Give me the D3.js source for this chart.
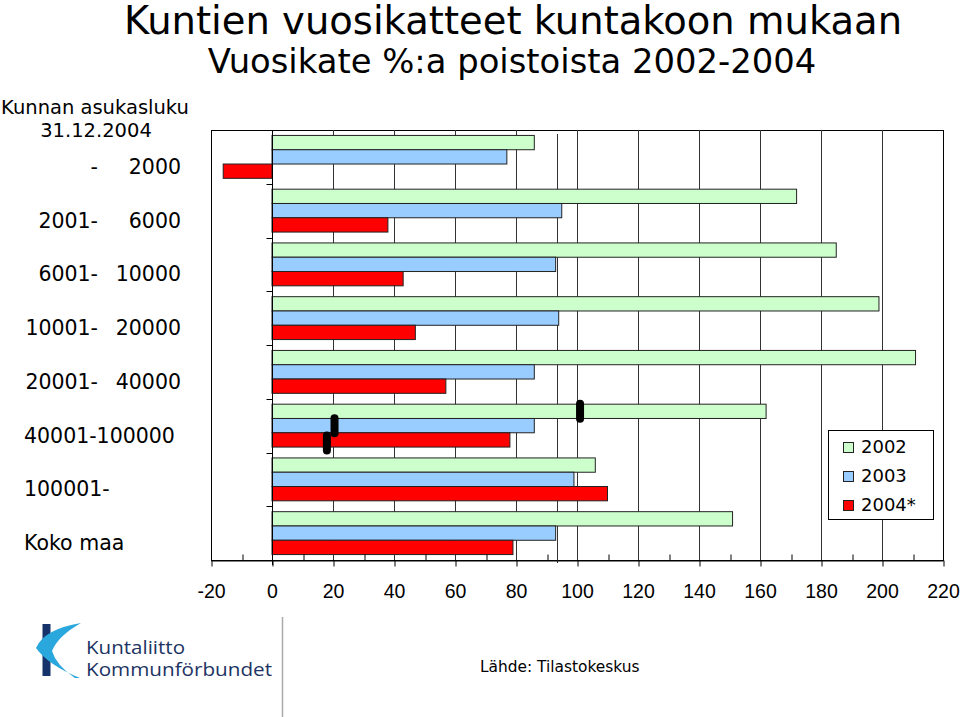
<!DOCTYPE html>
<html>
<head>
<meta charset="utf-8">
<script src="https://cdn.jsdelivr.net/npm/d3@7"></script>
<style>
  html, body { margin: 0; padding: 0; background: #fff; }
  svg { display: block; }
  text { font-family: "DejaVu Sans", Verdana, sans-serif; fill: #000; }
</style>
</head>
<body>
<svg id="chart" width="960" height="717"></svg>
<script>
// ---------- data ----------
const categoriesLeft  = ["-", "2001-", "6001-", "10001-", "20001-", "40001-100000", "100001-", "Koko maa"];
const categoriesRight = ["2000", "6000", "10000", "20000", "40000", "", "", ""];
const categories = ["-2000", "2001-6000", "6001-10000", "10001-20000", "20001-40000", "40001-100000", "100001-", "Koko maa"];
const series = ["2002", "2003", "2004*"];
const values2002 = [86, 172, 185, 199, 211, 162, 106, 151];
const values2003 = [77, 95, 93, 94, 86, 86, 99, 93];
const values2004 = [-16, 38, 43, 47, 57, 78, 110, 79];
const xTicks = [-20, 0, 20, 40, 60, 80, 100, 120, 140, 160, 180, 200, 220];
const xMinorTicks = [-10, 10, 30, 50, 70, 90, 110, 130, 150, 170, 190, 210];
const refLineValue = [93.6];
const markerCategory = "40001-100000";
const markerSeries = ["2002", "2003", "2004*"];
const markerValues = [101, 20.5, 18];
const colors = ["#ccffcc", "#99ccff", "#ff0000"];

const seriesValues = [values2002, values2003, values2004];

// ---------- layout ----------
const svg = d3.select("#chart");
const plot = { left: 211, right: 943, top: 130, bottom: 560 };

const x = d3.scaleLinear().domain([-20, 220]).range([plot.left, plot.right]);
const y0 = d3.scaleBand().domain(categories).range([plot.top, plot.bottom]).paddingInner(0).paddingOuter(0);
const y1 = d3.scaleBand().domain(series).range([0, y0.bandwidth()]).paddingInner(0).paddingOuter(0.38);
const color = d3.scaleOrdinal().domain(series).range(colors);

const cx = v => Math.round(x(v)) + 0.5;

// titles
svg.append("text").attr("x", 513).attr("y", 34).attr("text-anchor", "middle")
  .style("font-size", "38.5px").text("Kuntien vuosikatteet kuntakoon mukaan");
svg.append("text").attr("x", 512).attr("y", 73).attr("text-anchor", "middle")
  .style("font-size", "33.8px").text("Vuosikate %:a poistoista 2002-2004");

// left header
svg.append("text").attr("x", 95).attr("y", 114).attr("text-anchor", "middle")
  .style("font-size", "19.5px").text("Kunnan asukasluku");
svg.append("text").attr("x", 96).attr("y", 137).attr("text-anchor", "middle")
  .style("font-size", "19.5px").text("31.12.2004");

// category labels
const catG = svg.append("g");
categories.forEach((c, i) => {
  const yc = y0(c) + y0.bandwidth() / 2 + 9.5;
  if (categoriesRight[i]) {
    catG.append("text").attr("x", 98).attr("y", yc).attr("dy", "0.36em")
      .attr("text-anchor", "end").style("font-size", "20.5px").text(categoriesLeft[i]);
    catG.append("text").attr("x", 181).attr("y", yc).attr("dy", "0.36em")
      .attr("text-anchor", "end").style("font-size", "20.5px").text(categoriesRight[i]);
  } else {
    catG.append("text").attr("x", 24).attr("y", yc).attr("dy", "0.36em")
      .attr("text-anchor", "start").style("font-size", "20.5px").text(categoriesLeft[i]);
  }
});

// frame
svg.append("rect").attr("x", plot.left + 0.5).attr("y", plot.top + 0.5)
  .attr("width", plot.right - plot.left).attr("height", plot.bottom - plot.top)
  .attr("fill", "#fff").attr("stroke", "#000").attr("stroke-width", 1);

// grid lines
svg.append("g").selectAll("line").data(xTicks.filter(v => v > 0 && v < 220)).join("line")
  .attr("x1", d => cx(d)).attr("x2", d => cx(d))
  .attr("y1", plot.top).attr("y2", plot.bottom)
  .attr("stroke", "#333").attr("stroke-width", 1);

// reference line
svg.append("g").selectAll("line").data(refLineValue).join("line")
  .attr("x1", d => cx(d)).attr("x2", d => cx(d))
  .attr("y1", plot.top + 4).attr("y2", plot.bottom + 3)
  .attr("stroke", "#333").attr("stroke-width", 1);

// bars
const barData = [];
categories.forEach((c, i) => {
  series.forEach((s, j) => barData.push({ cat: c, s: s, v: seriesValues[j][i] }));
});
svg.append("g").selectAll("rect").data(barData).join("rect")
  .attr("x", d => Math.min(x(0), x(d.v)))
  .attr("y", d => y0(d.cat) + y1(d.s))
  .attr("width", d => Math.abs(x(d.v) - x(0)))
  .attr("height", y1.bandwidth())
  .attr("fill", d => color(d.s))
  .attr("stroke", "#222").attr("stroke-width", 1);

// zero axis line and category ticks
svg.append("line").attr("x1", cx(0)).attr("x2", cx(0))
  .attr("y1", plot.top).attr("y2", plot.bottom + 5)
  .attr("stroke", "#000").attr("stroke-width", 1);
svg.append("g").selectAll("line").data(categories.slice(1)).join("line")
  .attr("x1", cx(0) - 6).attr("x2", cx(0))
  .attr("y1", d => Math.round(y0(d)) + 0.5).attr("y2", d => Math.round(y0(d)) + 0.5)
  .attr("stroke", "#000").attr("stroke-width", 1);

// markers
svg.append("g").selectAll("rect").data(markerValues).join("rect")
  .attr("x", d => x(d) - 4)
  .attr("y", (d, i) => y0(markerCategory) + y1(markerSeries[i]) + y1.bandwidth() / 2 - 11.5 + (i === 2 ? 3 : 0))
  .attr("width", 8).attr("height", 23).attr("rx", 4).attr("ry", 4)
  .attr("fill", "#000");

// x axis
const xAxis = d3.axisBottom(x).tickValues(xTicks).tickSizeInner(6).tickSizeOuter(0)
  .tickPadding(18).tickFormat(d => String(d));
const gx = svg.append("g").attr("transform", `translate(0,${plot.bottom + 0.5})`).call(xAxis);
gx.select(".domain").attr("stroke", "#000");
gx.selectAll(".tick line").attr("stroke", "#000").attr("transform", function(d){ return `translate(${cx(d) - x(d)},0)`; });
gx.selectAll(".tick text")
  .style("font-family", "'Liberation Sans', Arial, sans-serif")
  .style("font-size", "19.5px").attr("fill", "#000");

const xMinor = d3.axisTop(x).tickValues(xMinorTicks).tickSizeInner(6).tickSizeOuter(0).tickFormat("");
const gm = svg.append("g").attr("transform", `translate(0,${plot.bottom + 0.5})`).call(xMinor);
gm.select(".domain").remove();
gm.selectAll(".tick line").attr("stroke", "#000").attr("transform", function(d){ return `translate(${cx(d) - x(d)},0)`; });

// legend
const lg = svg.append("g");
lg.append("rect").attr("x", 828.5).attr("y", 430.5).attr("width", 105).attr("height", 89)
  .attr("fill", "#fff").attr("stroke", "#000").attr("stroke-width", 1);
series.forEach((s, i) => {
  const yy = 447 + i * 29;
  lg.append("rect").attr("x", 843.5).attr("y", yy - 4.5).attr("width", 10).attr("height", 10)
    .attr("fill", color(s)).attr("stroke", "#222");
  lg.append("text").attr("x", 861).attr("y", yy).attr("dy", "0.36em")
    .style("font-size", "18px").text(s);
});

// source
svg.append("text").attr("x", 480).attr("y", 672).style("font-size", "15.4px").text("Lähde: Tilastokeskus");

// logo
const logo = svg.append("g");
logo.append("rect").attr("x", 42.5).attr("y", 624).attr("width", 8).attr("height", 52).attr("fill", "#17336b");
logo.append("path")
  .attr("d", "M81,623 Q44,629 36,648 Q48,665 80,678 L75,678 Q56,665 52,651 Q58,636 81,623 Z")
  .attr("fill", "#2aa7dc");
logo.append("text").attr("x", 86).attr("y", 654).attr("textLength", 99).attr("lengthAdjust", "spacingAndGlyphs")
  .style("font-family", "'Open Sans', 'Noto Sans', sans-serif").style("font-size", "18px").style("fill", "#1d3463")
  .text("Kuntaliitto");
logo.append("text").attr("x", 86).attr("y", 676).attr("textLength", 186).attr("lengthAdjust", "spacingAndGlyphs")
  .style("font-family", "'Open Sans', 'Noto Sans', sans-serif").style("font-size", "18px").style("fill", "#1d3463")
  .text("Kommunförbundet");
svg.append("line").attr("x1", 282.5).attr("x2", 282.5).attr("y1", 617).attr("y2", 717)
  .attr("stroke", "#aaa").attr("stroke-width", 1.5);
</script>
</body>
</html>
